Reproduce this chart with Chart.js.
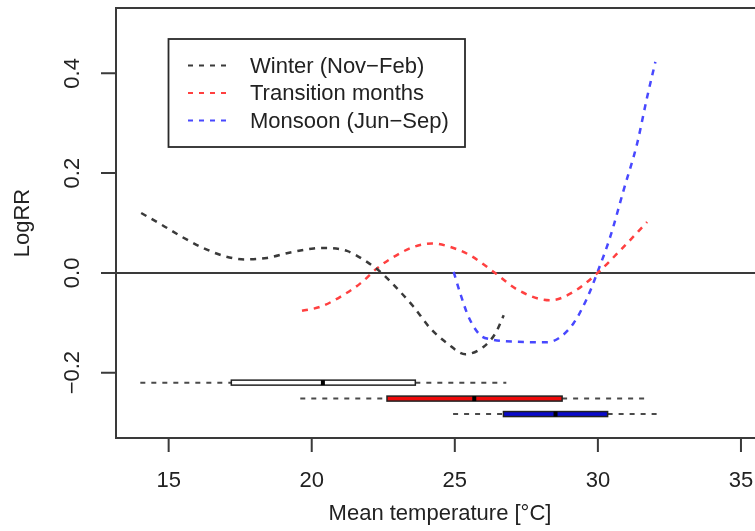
<!DOCTYPE html>
<html lang="en">
<head>
  <meta charset="UTF-8">
  <script src="https://cdn.jsdelivr.net/npm/chart.js@4"></script>
  <title>LogRR by mean temperature</title>
  <style>
    html, body { margin: 0; padding: 0; background: #fff; overflow: hidden; }
    #wrap { width: 755px; height: 531px; overflow: hidden; }
  </style>
</head>
<body>
  <div id="wrap"><canvas id="chart" width="800" height="531"></canvas></div>
  <script>
    // axis ticks
    const xTicks = [15, 20, 25, 30, 35]
    const yTicks = [-0.2, 0.0, 0.2, 0.4]
    const yTickLabels = ['\u22120.2', '0.0', '0.2', '0.4']

    // curves
    const winterX = [14.04, 14.77, 15.47, 16.17, 16.92, 17.68, 18.44, 19.25, 20.07, 20.42, 21.23, 21.93, 22.40, 22.98, 23.56, 24.14, 24.73, 25.37, 26.01, 26.42, 26.71]
    const winterY = [0.120, 0.096, 0.072, 0.051, 0.034, 0.027, 0.030, 0.041, 0.049, 0.050, 0.044, 0.022, 0.002, -0.031, -0.068, -0.111, -0.141, -0.163, -0.148, -0.121, -0.085]

    const transX = [19.66, 20.30, 21.00, 21.70, 22.28, 22.86, 23.56, 24.20, 24.84, 25.54, 26.36, 27.23, 28.34, 29.15, 29.97, 30.78, 31.72]
    const transY = [-0.076, -0.068, -0.048, -0.021, 0.009, 0.032, 0.052, 0.059, 0.052, 0.035, 0.002, -0.035, -0.055, -0.038, -0.001, 0.045, 0.102]

    const monsoonX = [24.96, 25.19, 25.48, 25.89, 26.24, 27.17, 28.22, 28.63, 29.15, 29.62, 29.97, 30.43, 30.90, 31.37, 31.72, 32.01]
    const monsoonY = [0.002, -0.041, -0.088, -0.125, -0.133, -0.138, -0.139, -0.131, -0.101, -0.051, -0.001, 0.072, 0.166, 0.259, 0.352, 0.423]

    // temperature distributions (horizontal boxplots)
    const boxPos = [-0.220, -0.252, -0.283]
    const boxLo  = [14.01, 19.60, 24.94]
    const boxQ1  = [17.19, 22.63, 26.70]
    const boxMed = [20.39, 25.68, 28.52]
    const boxQ3  = [23.62, 28.75, 30.34]
    const boxHi  = [26.80, 31.81, 32.12]

    const labels = ['Winter (Nov\u2212Feb)', 'Transition months', 'Monsoon (Jun\u2212Sep)']
    const lineColors = ['#3a3a3a', '#ff4040', '#4848ff']
    const boxFills = ['#ffffff', '#ee0a0a', '#0a0acc']
    const FONT = '22px "Liberation Sans", Arial, sans-serif'

    const pts = (xs, ys) => xs.map((v, i) => ({x: v, y: ys[i]}))

    const rPlot = {
      id: 'rPlot',
      beforeDatasetsDraw(chart) {
        const {ctx, chartArea: a, scales: {y}} = chart
        ctx.save()
        ctx.strokeStyle = '#3a3a3a'
        ctx.lineWidth = 2
        const y0 = y.getPixelForValue(0)
        ctx.beginPath(); ctx.moveTo(a.left, y0); ctx.lineTo(a.right, y0); ctx.stroke()
        ctx.restore()
      },
      afterDatasetsDraw(chart) {
        const {ctx, scales: {x, y}} = chart
        ctx.save()
        boxPos.forEach((v, i) => {
          const py = y.getPixelForValue(v)
          ctx.strokeStyle = '#4a4a4a'
          ctx.lineWidth = 2
          ctx.setLineDash([5, 6])
          ctx.beginPath()
          ctx.moveTo(x.getPixelForValue(boxLo[i]), py); ctx.lineTo(x.getPixelForValue(boxQ1[i]), py)
          ctx.moveTo(x.getPixelForValue(boxQ3[i]), py); ctx.lineTo(x.getPixelForValue(boxHi[i]), py)
          ctx.stroke()
          ctx.setLineDash([])
          const x1 = x.getPixelForValue(boxQ1[i]), x2 = x.getPixelForValue(boxQ3[i])
          ctx.fillStyle = boxFills[i]
          ctx.fillRect(x1, py - 2.5, x2 - x1, 5)
          ctx.strokeStyle = '#222'
          ctx.lineWidth = 1.5
          ctx.strokeRect(x1, py - 2.5, x2 - x1, 5)
          ctx.fillStyle = '#000'
          ctx.fillRect(x.getPixelForValue(boxMed[i]) - 2, py - 2.5, 4, 5)
        })
        ctx.restore()
      },
      afterDraw(chart) {
        const {ctx, chartArea: a, scales: {x, y}} = chart
        ctx.save()
        // frame
        ctx.strokeStyle = '#3a3a3a'
        ctx.lineWidth = 2
        ctx.strokeRect(a.left, a.top, a.right - a.left, a.bottom - a.top)
        // ticks
        ctx.beginPath()
        xTicks.forEach(t => {
          const px = x.getPixelForValue(t)
          ctx.moveTo(px, a.bottom); ctx.lineTo(px, a.bottom + 14)
        })
        yTicks.forEach(t => {
          const py = y.getPixelForValue(t)
          ctx.moveTo(a.left, py); ctx.lineTo(a.left - 15, py)
        })
        ctx.stroke()
        // tick labels
        ctx.fillStyle = '#222'
        ctx.font = FONT
        ctx.textAlign = 'center'
        ctx.textBaseline = 'middle'
        xTicks.forEach(t => ctx.fillText(String(t), x.getPixelForValue(t), 481))
        yTicks.forEach((t, i) => {
          ctx.save()
          ctx.translate(72.5, y.getPixelForValue(t))
          ctx.rotate(-Math.PI / 2)
          ctx.fillText(yTickLabels[i], 0, 0)
          ctx.restore()
        })
        // axis titles
        ctx.fillText('Mean temperature [\u00b0C]', 440, 514)
        ctx.save()
        ctx.translate(23, (a.top + a.bottom) / 2)
        ctx.rotate(-Math.PI / 2)
        ctx.fillText('LogRR', 0, 0)
        ctx.restore()
        // legend
        ctx.fillStyle = '#fff'
        ctx.fillRect(168.5, 39, 296.5, 108)
        ctx.strokeStyle = '#2a2a2a'
        ctx.lineWidth = 1.8
        ctx.strokeRect(168.5, 39, 296.5, 108)
        ctx.textAlign = 'left'
        chart.data.datasets.forEach((ds, i) => {
          const ly = 65.5 + i * 27.5
          ctx.strokeStyle = ds.borderColor
          ctx.lineWidth = 2
          ctx.setLineDash([5, 6])
          ctx.beginPath(); ctx.moveTo(188, ly); ctx.lineTo(230, ly); ctx.stroke()
          ctx.setLineDash([])
          ctx.fillStyle = '#222'
          ctx.fillText(ds.label, 250, ly + 1)
        })
        ctx.restore()
      }
    }

    const series = [pts(winterX, winterY), pts(transX, transY), pts(monsoonX, monsoonY)]

    new Chart(document.getElementById('chart'), {
      type: 'line',
      data: {
        datasets: series.map((d, i) => ({
          label: labels[i],
          data: d,
          borderColor: lineColors[i],
          borderWidth: 2.5,
          borderDash: [6, 6],
          pointRadius: 0,
          cubicInterpolationMode: 'monotone',
          fill: false
        }))
      },
      options: {
        responsive: false,
        animation: false,
        layout: {padding: {left: 116, top: 8, right: 35, bottom: 93}},
        plugins: {legend: {display: false}, tooltip: {enabled: false}},
        scales: {
          x: {type: 'linear', min: 13.16, max: 35.84, display: false},
          y: {type: 'linear', min: -0.331, max: 0.531, display: false}
        }
      },
      plugins: [rPlot]
    })
  </script>
</body>
</html>
